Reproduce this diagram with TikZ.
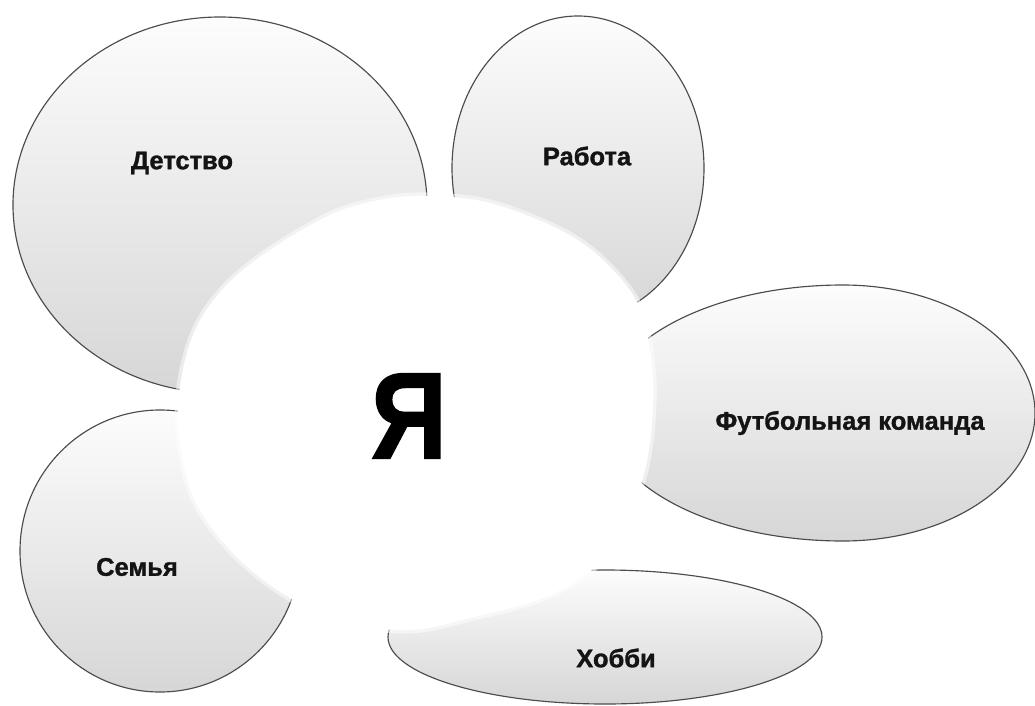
\documentclass[tikz,border=0pt]{standalone}
\usepackage{fontspec}
\setmainfont{Liberation Sans}
\newfontfamily\heavyfont[FakeBold=1.3]{Liberation Sans Bold}
\begin{document}
\begin{tikzpicture}[x=1pt,y=-1pt,
  petal/.style={draw=black!70, line width=1.15pt, top color=black!1, bottom color=black!16},
  lbl/.style={font=\heavyfont\fontsize{25.5}{30}\selectfont, text=black!92, inner sep=0pt},
  me/.style={font=\heavyfont\fontsize{123}{130}\selectfont, text=black, inner sep=0pt}]
\useasboundingbox (0,0) rectangle (1035,706);
\fill[white] (0,0) rectangle (1035,706);
\begin{scope}
\clip (0,0) rectangle (1035,706);
% petals
\path[petal] (220,205) ellipse [x radius=207pt, y radius=188pt];
\path[petal] (578,168) ellipse [x radius=126pt, y radius=152pt];
\path[petal] (843,285) arc[start angle=90, end angle=-90, x radius=192pt, y radius=128pt]
   arc[start angle=270, end angle=90, x radius=240pt, y radius=128pt] -- cycle;
\path[petal] (160,551) ellipse [x radius=140pt, y radius=141pt];
\path[petal] (605,637) ellipse [x radius=217pt, y radius=67pt];
% central blob with soft edge
\path[fill=white, draw=white, line width=7pt, opacity=0.5]
  plot[smooth cycle, tension=0.6] coordinates {(427,196) (490,203) (560,230) (603,260) (637,302) (650,350) (653,405) (645,470) (625,520) (597,565) (545,597) (470,618) (410,630) (345,622) (290,598) (237,557) (197,505) (181,450) (179,395) (193,335) (222,290) (267,252) (330,215) (380,200)};
\path[fill=white]
  plot[smooth cycle, tension=0.6] coordinates {(427,196) (490,203) (560,230) (603,260) (637,302) (650,350) (653,405) (645,470) (625,520) (597,565) (545,597) (470,618) (410,630) (345,622) (290,598) (237,557) (197,505) (181,450) (179,395) (193,335) (222,290) (267,252) (330,215) (380,200)};
\end{scope}
% labels
\node[lbl] (detstvo) at (182,163) {Детство};
\node[lbl] (rabota) at (587,156) {Работа};
\node[lbl] (futbol) at (850,423) {Футбольная команда};
\node[lbl] (semya) at (137,567) {Семья};
\node[lbl] (hobbi) at (616,658) {Хобби};
\node[me] (ya) at (409,416) {\scalebox{0.86}[1]{Я}};
\end{tikzpicture}
\end{document}
